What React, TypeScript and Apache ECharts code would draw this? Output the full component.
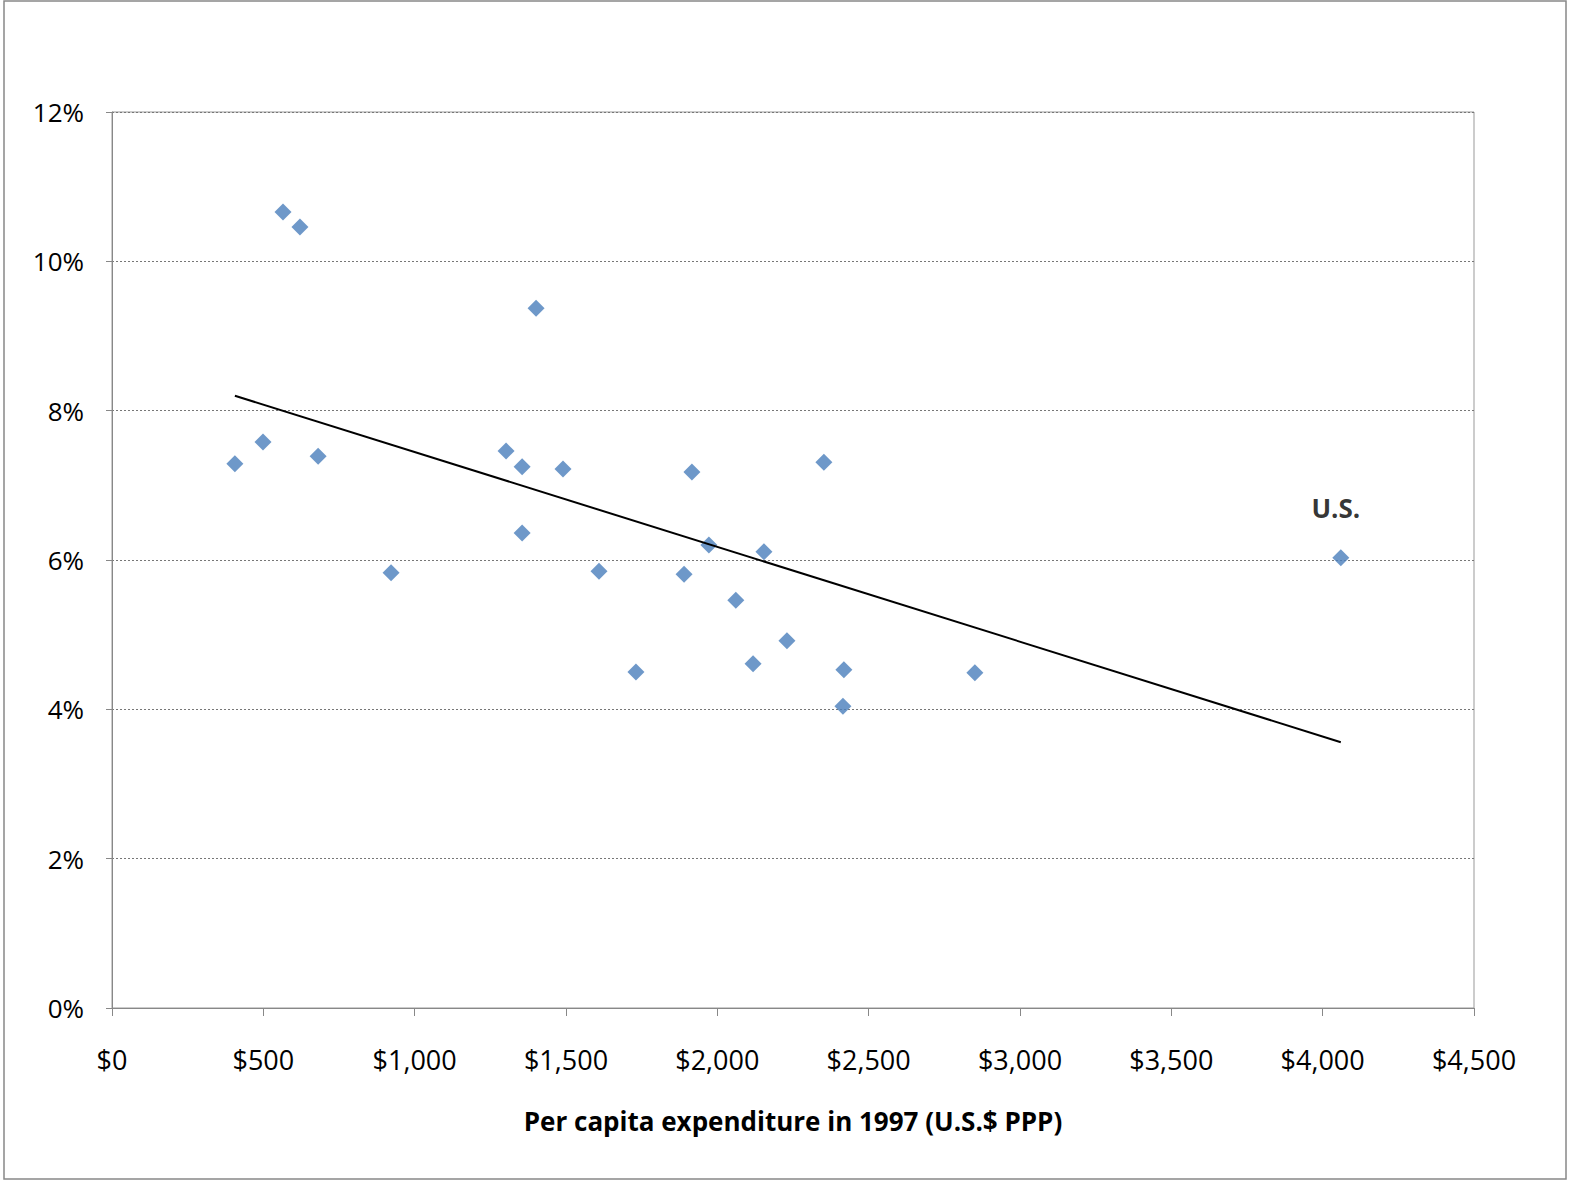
import { useEffect, useRef } from 'react';
import * as echarts from 'echarts';

const spending = [406, 499, 565, 621, 681, 922, 1302, 1355, 1355, 1401, 1490, 1609, 1731, 1890, 1916, 1972, 2061, 2118, 2154, 2230, 2352, 2415, 2418, 2851, 4060];
const growth = [7.29, 7.58, 10.66, 10.46, 7.39, 5.83, 7.46, 7.25, 6.36, 9.37, 7.22, 5.85, 4.5, 5.81, 7.18, 6.2, 5.46, 4.61, 6.11, 4.92, 7.31, 4.04, 4.53, 4.49, 6.03];
const trendX = [406, 4060];
const trendY = [8.2, 3.56];
const labelIndex = 24;
const labelText = 'U.S.';
const xTitle = 'Per capita expenditure in 1997 (U.S.$ PPP)';

const font = 'Open Sans';

export default function App() {
  const ref = useRef<HTMLDivElement>(null);

  useEffect(() => {
    if (!ref.current) return;
    const chart = echarts.init(ref.current, undefined, { renderer: 'svg' });
    chart.setOption({
      animation: false,
      backgroundColor: '#fff',
      textStyle: { fontFamily: font },
      graphic: [
        { type: 'rect', shape: { x: 4, y: 1, width: 1562, height: 1178 }, style: { fill: 'none', stroke: '#888', lineWidth: 1.5 } },
      ],
      grid: { left: 112, right: 95, top: 112, bottom: 175, show: true, borderColor: '#999', borderWidth: 1 },
      xAxis: {
        type: 'value', min: 0, max: 4500, interval: 500,
        name: xTitle, nameLocation: 'middle', nameGap: 100,
        nameTextStyle: { fontSize: 26, fontWeight: 'bold', color: '#000', fontFamily: font },
        axisLine: { lineStyle: { color: '#888' } },
        axisTick: { show: true, length: 8, lineStyle: { color: '#888' } },
        axisLabel: { fontSize: 27, color: '#000', margin: 38, formatter: (v: number) => '$' + v.toLocaleString('en-US') },
        splitLine: { show: false },
      },
      yAxis: {
        type: 'value', min: 0, max: 12, interval: 2,
        axisLine: { show: true, lineStyle: { color: '#888' } },
        axisTick: { show: true, length: 6, lineStyle: { color: '#888' } },
        axisLabel: { fontSize: 26, color: '#000', margin: 28, formatter: (v: number) => v + '%' },
        splitLine: { lineStyle: { color: '#777', type: [2, 2] } },
      },
      series: [
        {
          type: 'scatter', symbol: 'diamond', symbolSize: 17,
          itemStyle: { color: '#4a7ebb' },
          data: spending.map((x, i) => ({
            value: [x, growth[i]],
            label: i === labelIndex ? {
              show: true, formatter: labelText, position: 'top', distance: 28, offset: [-5, 0],
              fontSize: 26, fontWeight: 'bold', color: '#000', fontFamily: font,
            } : undefined,
          })),
        },
        {
          type: 'line', symbol: 'none', silent: true,
          lineStyle: { color: '#000', width: 2 },
          data: trendX.map((x, i) => [x, trendY[i]]),
        },
      ],
    });
    return () => chart.dispose();
  }, []);

  return <div ref={ref} style={{ position: 'fixed', left: 0, top: 0, width: 1569, height: 1183 }} />;
}
